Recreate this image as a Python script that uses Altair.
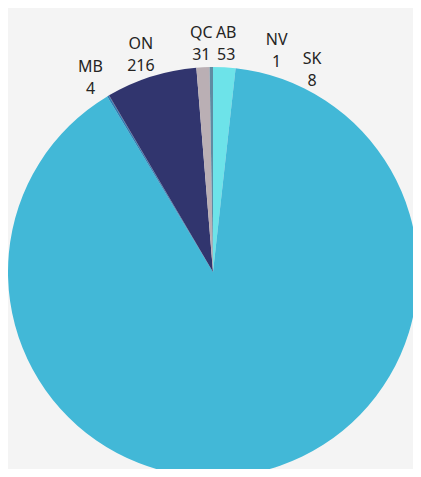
import altair as alt
import pandas as pd

# Slices in drawing order (clockwise from 12 o'clock)
provinces = ["AB", "BC", "MB", "NV", "ON", "QC", "SK"]
counts = [53, 2700, 4, 1, 216, 31, 8]
slice_colors = ["#6DE3E9", "#42B8D7", "#2B7DB3", "#3B4A86", "#31356E", "#BAAFB4", "#5F8CA3"]

df = pd.DataFrame({
    "province": provinces,
    "count": counts,
    "order": list(range(len(provinces))),
})

# page has an 8px margin: chart coords = page coords - 8
CX, CY = 205, 264
R = 205
LR = 239
FONT = "Noto Sans"
TXT = "#252423"

base = alt.Chart(df)

pie = base.mark_arc(radius=R).encode(
    theta=alt.Theta("count:Q", stack=True),
    order=alt.Order("order:Q"),
    color=alt.Color("province:N", scale=alt.Scale(domain=provinces, range=slice_colors), legend=None),
    x=alt.value(CX),
    y=alt.value(CY),
)

lab_base = base.transform_window(
    cum="sum(count)", sort=[alt.SortField("order")], frame=[None, 0]
).transform_joinaggregate(
    total="sum(count)"
).transform_calculate(
    mid="(datum.cum - datum.count / 2) / datum.total",
    label="datum.province + '\\n' + datum.count",
)

def label_layer(names, dx=0, dy=0):
    return lab_base.transform_filter(
        alt.FieldOneOfPredicate(field="province", oneOf=names)
    ).mark_text(
        radius=LR, font=FONT, fontSize=16, color=TXT, lineBreak="\n",
        lineHeight=22, align="center", baseline="middle", dx=dx, dy=dy,
    ).encode(
        theta=alt.Theta("mid:Q", stack=None, scale=alt.Scale(domain=[0, 1])),
        text=alt.Text("label:N"),
        x=alt.value(CX),
        y=alt.value(CY),
    )

main_labels = label_layer(["AB", "MB", "ON", "QC"])
nv_label = label_layer(["NV"], dx=185, dy=-26)
sk_label = label_layer(["SK"], dx=101, dy=26)

chart = alt.layer(pie, main_labels, nv_label, sk_label).resolve_scale(
    theta="independent"
).properties(
    width=405,
    height=461,
    autosize=alt.AutoSizeParams(type="none"),
    padding=0,
    background="#F4F4F4",
).configure_view(stroke=None)

chart.save("out.html", embed_options={"renderer": "svg", "actions": False})
